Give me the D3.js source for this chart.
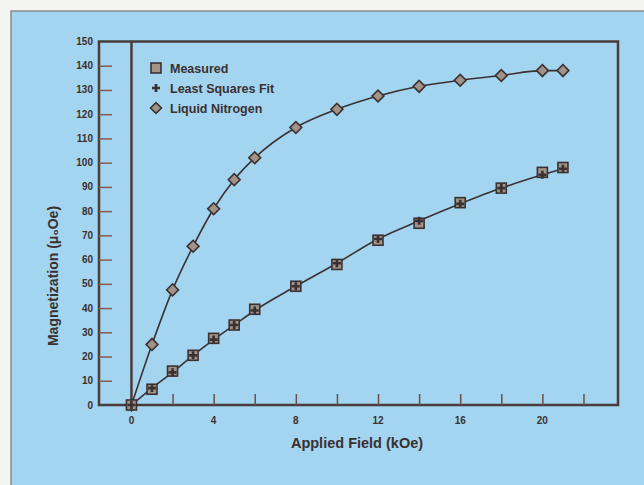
<!DOCTYPE html>
<html lang="en">
<head>
    <meta charset="UTF-8">
    <title>magnetization</title>
    <script src="https://cdn.jsdelivr.net/npm/d3@7/dist/d3.min.js"></script>
    <style>
        body { margin: 0; background: #f4f4f2; }
        text { font-family: "Liberation Sans", Arial, sans-serif; font-weight: bold; fill: #3a3030; }
        path.curve { fill: none; stroke: #3a3232; stroke-width: 1.6px; }
    </style>
</head>
<body>
<svg width="644" height="485"></svg>
<script>
    // data
    let field = [0, 1, 2, 3, 4, 5, 6, 8, 10, 12, 14, 16, 18, 20, 21]
    let measured = [0, 6.5, 14, 20.5, 27.5, 33, 39.5, 49, 58, 68, 75, 83.5, 89.5, 96, 98]
    let leastSquares = [0, 7, 13.5, 20.5, 27, 33, 39, 49, 58.5, 68.5, 76, 83, 89.5, 95, 97.5]
    let nitrogen = [0, 25, 47.5, 65.5, 81, 93, 102, 114.5, 122, 127.5, 131.5, 134, 136, 138, 138]
    let xTicks = [0, 4, 8, 12, 16, 20]
    let xMinor = [2, 4, 6, 8, 10, 12, 14, 16, 18, 20, 22]
    let yTicks = [0, 10, 20, 30, 40, 50, 60, 70, 80, 90, 100, 110, 120, 130, 140, 150]
    let legendLabels = ["Measured", "Least Squares Fit", "Liquid Nitrogen"]

    let svg = d3.select('svg')
    let ink = "#3a3232"

    // panel
    svg.append('rect').attr('x', 11).attr('y', 11).attr('width', 640).attr('height', 480)
        .attr('fill', '#a3d4f0').attr('stroke', '#8a8a8a').attr('stroke-width', 1.5)

    let xScale = d3.scaleLinear().domain([-1.58, 23.68]).range([99, 618])
    let yScale = d3.scaleLinear().domain([0, 150]).range([405, 41.5])

    // frame
    svg.append('rect').attr('x', 99).attr('y', 41.5).attr('width', 519).attr('height', 363.5)
        .attr('fill', 'none').attr('stroke', '#4a3c3a').attr('stroke-width', 2.5)

    // zero field line
    svg.append('line').attr('x1', xScale(0)).attr('x2', xScale(0))
        .attr('y1', yScale(150)).attr('y2', yScale(0))
        .attr('stroke', '#4a3c3a').attr('stroke-width', 2.5)

    // y axis: ticks pointing inward, labels outside
    let yAxis = svg.append('g').attr('transform', 'translate(' + 99 + ',0)')
        .call(d3.axisRight(yScale).tickValues(yTicks).tickSize(13).tickFormat(''))
    yAxis.select('.domain').remove()
    yAxis.selectAll('line').attr('stroke', '#8a5a50').attr('stroke-width', 1.5)
        .filter(function (d) { return d === 0 || d === 150 }).remove()
    svg.append('g').selectAll('text').data(yTicks).enter().append('text')
        .attr('x', 93).attr('y', function (d) { return yScale(d) + 3.5 })
        .attr('text-anchor', 'end').style('font-size', '10px')
        .text(function (d) { return d })

    // x axis: ticks pointing up
    let xAxis = svg.append('g').attr('transform', 'translate(0,' + 405 + ')')
        .call(d3.axisTop(xScale).tickValues(xMinor).tickSize(11).tickFormat(''))
    xAxis.select('.domain').remove()
    xAxis.selectAll('line').attr('stroke', '#6a5048').attr('stroke-width', 1.5)
    svg.append('g').selectAll('text').data(xTicks).enter().append('text')
        .attr('x', function (d) { return xScale(d) }).attr('y', 424)
        .attr('text-anchor', 'middle').style('font-size', '10px')
        .text(function (d) { return d })

    // axis titles
    svg.append('text').attr('x', 357).attr('y', 448).attr('text-anchor', 'middle')
        .style('font-size', '14.5px').text('Applied Field (kOe)')
    svg.append('text').attr('transform', 'translate(58,' + 276 + ') rotate(-90)')
        .attr('text-anchor', 'middle').style('font-size', '14px').text('Magnetization (μ₀Oe)')

    // lines
    let fitLine = d3.line()
        .x(function (d, i) { return xScale(field[i]) })
        .y(function (d) { return yScale(d) })
        .curve(d3.curveMonotoneX)

    svg.append('path').datum(leastSquares).attr('class', 'curve').attr('d', fitLine)
    svg.append('path').datum(nitrogen).attr('class', 'curve').attr('d', fitLine)

    let markFill = "#a39288"

    // diamonds
    svg.append('g').selectAll('path').data(nitrogen).enter().append('path')
        .attr('d', d3.symbol().type(d3.symbolSquare).size(70))
        .attr('transform', function (d, i) { return 'translate(' + xScale(field[i]) + ',' + yScale(d) + ') rotate(45)' })
        .attr('fill', markFill).attr('stroke', ink).attr('stroke-width', 1.6)

    // measured squares
    svg.append('g').selectAll('rect').data(measured).enter().append('rect')
        .attr('x', function (d, i) { return xScale(field[i]) - 5 })
        .attr('y', function (d) { return yScale(d) - 5 })
        .attr('width', 10).attr('height', 10)
        .attr('fill', markFill).attr('stroke', ink).attr('stroke-width', 1.6)

    // least squares plus marks
    svg.append('g').selectAll('path').data(leastSquares).enter().append('path')
        .attr('d', d3.symbol().type(d3.symbolCross).size(36))
        .attr('transform', function (d, i) { return 'translate(' + xScale(field[i]) + ',' + yScale(d) + ')' })
        .attr('fill', ink)

    // legend
    let legend = svg.append('g')
    let rowY = [68, 88, 108]
    legend.append('rect').attr('x', 151).attr('y', rowY[0] - 5).attr('width', 10).attr('height', 10)
        .attr('fill', markFill).attr('stroke', ink).attr('stroke-width', 1.6)
    legend.append('path').attr('d', d3.symbol().type(d3.symbolCross).size(36))
        .attr('transform', 'translate(156,' + rowY[1] + ')').attr('fill', ink)
    legend.append('path').attr('d', d3.symbol().type(d3.symbolSquare).size(60))
        .attr('transform', 'translate(156,' + rowY[2] + ') rotate(45)')
        .attr('fill', markFill).attr('stroke', ink).attr('stroke-width', 1.6)
    legend.selectAll('text').data(legendLabels).enter().append('text')
        .attr('x', 170).attr('y', function (d, i) { return rowY[i] + 4.5 })
        .style('font-size', '12.5px').text(function (d) { return d })
</script>
</body>
</html>
